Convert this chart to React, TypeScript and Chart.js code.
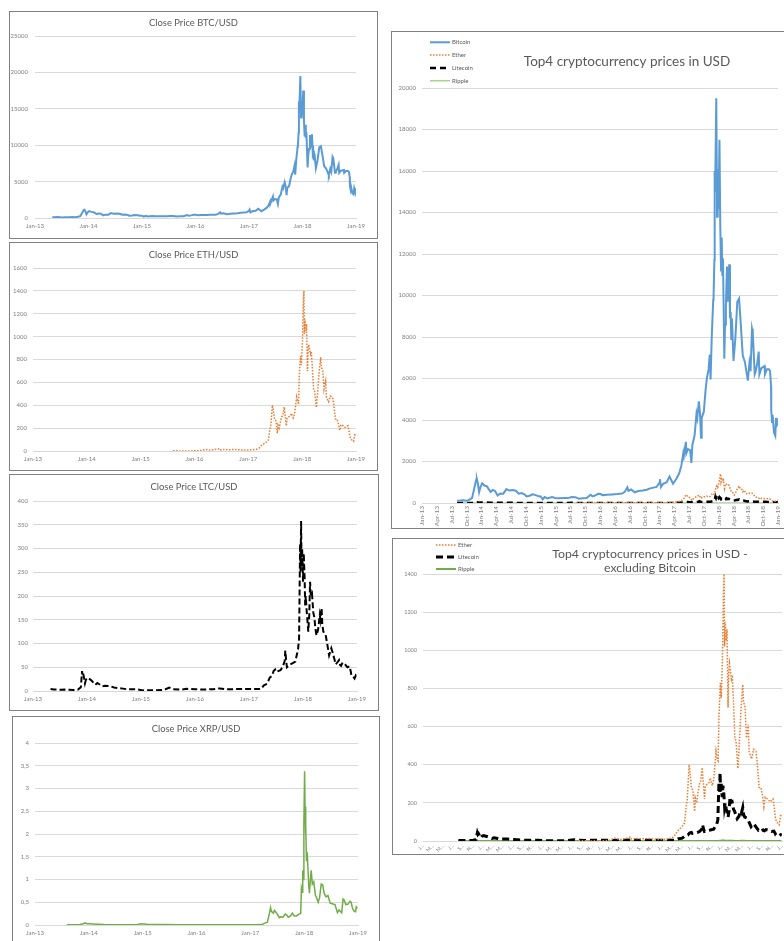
import React, { useEffect, useRef } from 'react';
import { Chart, registerables } from 'chart.js';

Chart.register(...registerables);

const FONT = 'Lato, "Liberation Sans", sans-serif';
const TITLE_COLOR = '#595959';
const TICK_COLOR = '#7f7f7f';
const GRID_COLOR = '#d9d9d9';
const BTC_COLOR = '#5B9BD5';
const ETH_COLOR = '#ED7D31';
const LTC_COLOR = '#000000';
const XRP_COLOR = '#70AD47';
const XRP_LIGHT = '#A9D18E';

// ---------------- data ----------------
const BTC_DATES = [
  '2013-04-28','2013-05-15','2013-06-01','2013-06-20','2013-07-05','2013-07-20','2013-08-04','2013-08-25','2013-09-10','2013-10-02',
  '2013-10-20','2013-11-05','2013-11-18','2013-11-30','2013-12-04','2013-12-10','2013-12-18','2013-12-26','2014-01-06','2014-01-20',
  '2014-02-05','2014-02-25','2014-03-10','2014-03-25','2014-04-10','2014-04-25','2014-05-15','2014-06-03','2014-06-20','2014-07-10',
  '2014-08-01','2014-08-18','2014-09-05','2014-09-25','2014-10-05','2014-10-25','2014-11-12','2014-12-01','2014-12-20','2015-01-01',
  '2015-01-14','2015-01-26','2015-02-10','2015-03-10','2015-03-31','2015-04-20','2015-05-20','2015-06-15','2015-07-10','2015-08-01',
  '2015-08-24','2015-09-15','2015-10-10','2015-11-04','2015-11-15','2015-12-01','2015-12-20','2016-01-05','2016-01-16','2016-02-15',
  '2016-03-15','2016-04-15','2016-05-15','2016-06-01','2016-06-17','2016-06-23','2016-07-10','2016-08-02','2016-08-25','2016-09-20',
  '2016-10-15','2016-11-05','2016-11-25','2016-12-15','2016-12-31','2017-01-05','2017-01-11','2017-01-25','2017-02-15','2017-03-03',
  '2017-03-25','2017-04-15','2017-05-01','2017-05-15','2017-05-25','2017-05-27','2017-06-12','2017-06-15','2017-06-25','2017-07-08',
  '2017-07-16','2017-07-22','2017-08-05','2017-08-17','2017-08-22','2017-09-01','2017-09-08','2017-09-14','2017-09-18','2017-10-01',
  '2017-10-12','2017-10-20','2017-10-31','2017-11-07','2017-11-12','2017-11-19','2017-11-28','2017-11-30','2017-12-05','2017-12-07',
  '2017-12-10','2017-12-17','2017-12-22','2017-12-26','2017-12-31','2018-01-06','2018-01-11','2018-01-16','2018-01-20','2018-01-24',
  '2018-01-28','2018-02-02','2018-02-05','2018-02-09','2018-02-14','2018-02-20','2018-02-24','2018-03-05','2018-03-10','2018-03-14',
  '2018-03-18','2018-03-22','2018-04-01','2018-04-12','2018-04-24','2018-05-05','2018-05-15','2018-05-28','2018-06-10','2018-06-24',
  '2018-06-28','2018-07-08','2018-07-15','2018-07-24','2018-07-29','2018-08-10','2018-08-15','2018-08-25','2018-09-04','2018-09-08',
  '2018-09-20','2018-10-10','2018-10-12','2018-10-25','2018-11-06','2018-11-13','2018-11-19','2018-11-20','2018-11-25','2018-11-28',
  '2018-12-07','2018-12-15','2018-12-20','2018-12-25','2018-12-31',
];
const BTC_CLOSE = [
  135,115,122,108,68,90,105,115,130,105,
  160,245,700,1130,1150,950,520,760,950,840,
  800,530,630,580,360,460,450,670,600,630,
  590,450,480,410,320,350,420,380,320,315,
  180,290,220,290,245,225,235,235,290,280,
  210,230,245,400,320,360,440,430,380,400,
  415,430,455,535,760,590,650,515,575,605,
  640,705,740,775,965,1150,770,920,1000,1280,
  930,1180,1420,1800,2300,2050,2950,2400,2600,2550,
  1930,2800,3250,4300,4100,4900,4300,3150,4100,4400,
  5450,6000,6450,7150,5950,8000,9800,9900,11700,16000,
  15000,19500,13800,16100,14150,17500,13400,11200,12800,11000,
  11800,8900,6950,8600,9500,11400,9700,11500,8900,9200,
  7900,8900,6850,7900,9700,9850,8700,7100,6800,6100,
  5900,6750,6350,8400,8200,6200,6300,6700,7300,6200,
  6500,6600,6200,6450,6450,6350,5600,4450,3900,4250,
  3400,3240,4100,3750,3840,
];

const ETH_DATES = [
  '2015-08-08','2015-09-01','2015-10-20','2015-12-01','2016-01-15','2016-02-15','2016-03-13','2016-04-15','2016-05-15','2016-06-17',
  '2016-06-20','2016-07-25','2016-08-20','2016-10-01','2016-11-01','2016-12-01','2017-01-01','2017-02-01','2017-03-01','2017-03-15',
  '2017-04-01','2017-05-01','2017-05-15','2017-05-25','2017-06-01','2017-06-12','2017-06-18','2017-06-26','2017-07-05','2017-07-16',
  '2017-07-20','2017-07-28','2017-08-05','2017-08-15','2017-08-22','2017-09-01','2017-09-08','2017-09-15','2017-09-20','2017-10-01',
  '2017-10-12','2017-10-20','2017-11-01','2017-11-10','2017-11-24','2017-11-30','2017-12-07','2017-12-12','2017-12-18','2017-12-21',
  '2017-12-26','2018-01-03','2018-01-09','2018-01-13','2018-01-16','2018-01-20','2018-01-26','2018-01-31','2018-02-06','2018-02-10',
  '2018-02-14','2018-02-25','2018-03-02','2018-03-10','2018-03-18','2018-03-25','2018-04-06','2018-04-14','2018-04-25','2018-05-05',
  '2018-05-10','2018-05-20','2018-05-28','2018-06-08','2018-06-13','2018-06-28','2018-07-10','2018-07-25','2018-08-02','2018-08-14',
  '2018-08-25','2018-09-05','2018-09-12','2018-09-20','2018-10-05','2018-10-20','2018-11-07','2018-11-14','2018-11-20','2018-11-25',
  '2018-12-07','2018-12-15','2018-12-24','2018-12-31',
];
const ETH_CLOSE = [
  2.8,1.3,0.5,0.9,1.5,5,15,8,12,20,
  11,13,11,13,10.8,8.5,8,10.7,16,28,
  50,77,95,180,220,400,360,280,265,155,
  225,200,250,300,310,385,300,220,285,300,
  305,330,290,320,470,430,420,650,780,830,
  750,960,1300,1400,1020,1150,1050,1110,700,880,
  930,850,870,720,540,525,380,505,700,820,
  730,700,540,610,470,430,480,470,410,280,
  280,230,180,230,220,205,220,180,130,110,
  90,85,140,135,
];

const LTC_DATES = [
  '2013-04-28','2013-05-20','2013-06-15','2013-07-10','2013-08-04','2013-09-01','2013-10-01','2013-11-01','2013-11-20','2013-11-28',
  '2013-12-01','2013-12-05','2013-12-10','2013-12-18','2013-12-25','2014-01-05','2014-01-20','2014-02-01','2014-02-25','2014-03-10',
  '2014-03-30','2014-04-10','2014-05-01','2014-06-01','2014-07-01','2014-08-01','2014-09-01','2014-10-05','2014-11-01','2014-12-01',
  '2015-01-14','2015-02-01','2015-04-01','2015-06-01','2015-07-10','2015-08-01','2015-10-01','2015-11-05','2016-01-01','2016-03-01',
  '2016-05-01','2016-06-17','2016-08-01','2016-10-01','2016-12-01','2017-01-05','2017-03-20','2017-03-30','2017-04-10','2017-05-01',
  '2017-05-20','2017-06-05','2017-06-15','2017-06-25','2017-07-01','2017-07-16','2017-08-01','2017-08-15','2017-08-30','2017-09-03',
  '2017-09-10','2017-09-14','2017-10-01','2017-10-20','2017-11-10','2017-11-28','2017-12-05','2017-12-12','2017-12-15','2017-12-19',
  '2017-12-22','2017-12-26','2018-01-01','2018-01-06','2018-01-12','2018-01-16','2018-01-20','2018-01-26','2018-02-06','2018-02-12',
  '2018-02-17','2018-02-22','2018-03-01','2018-03-10','2018-03-17','2018-03-25','2018-04-01','2018-04-12','2018-04-23','2018-04-28',
  '2018-05-05','2018-05-10','2018-05-17','2018-06-01','2018-06-12','2018-06-25','2018-07-10','2018-07-20','2018-08-10','2018-09-01',
  '2018-09-08','2018-09-15','2018-09-25','2018-10-15','2018-10-28','2018-11-12','2018-11-20','2018-11-24','2018-12-07','2018-12-15',
  '2018-12-24','2018-12-31',
];
const LTC_CLOSE = [
  4.3,3.2,2.9,2.5,2.9,2.5,2.2,2.9,8,42,
  34,38,30,16,24,28,25,22,13,17,
  13,10,11,10.5,7.5,6,5,3.3,3.8,3.5,
  1.3,1.8,1.5,2,7,4,3,4.5,3.5,3.2,
  3.8,5.5,3.8,4,4,4.3,4,7.5,12,15,
  28,32,42,45,40,42,44,50,63,85,
  60,50,55,58,62,88,110,310,250,358,
  260,300,230,290,240,180,200,170,125,160,
  230,200,205,165,155,130,117,130,160,150,
  175,140,125,120,100,75,90,80,56,65,
  55,53,60,55,50,52,40,32,29,26,
  33,31,
];

const XRP_DATES = [
  '2013-08-04','2013-09-15','2013-11-01','2013-11-25','2013-12-05','2013-12-18','2014-01-05','2014-02-01','2014-03-01','2014-04-15',
  '2014-06-01','2014-08-01','2014-10-01','2014-11-25','2014-12-20','2015-01-10','2015-02-01','2015-04-01','2015-06-01','2015-09-01',
  '2015-12-01','2016-03-01','2016-06-01','2016-09-01','2016-12-01','2017-02-01','2017-03-20','2017-04-01','2017-04-25','2017-05-05',
  '2017-05-17','2017-05-22','2017-06-05','2017-06-12','2017-06-25','2017-07-15','2017-07-25','2017-08-10','2017-08-25','2017-09-05',
  '2017-09-15','2017-10-01','2017-10-12','2017-10-25','2017-11-10','2017-11-24','2017-12-08','2017-12-13','2017-12-18','2017-12-22',
  '2017-12-26','2017-12-30','2018-01-04','2018-01-07','2018-01-10','2018-01-13','2018-01-17','2018-01-22','2018-02-01','2018-02-06',
  '2018-02-12','2018-02-17','2018-02-24','2018-03-05','2018-03-17','2018-03-25','2018-04-05','2018-04-14','2018-04-25','2018-05-05',
  '2018-05-15','2018-05-28','2018-06-10','2018-06-25','2018-07-15','2018-07-28','2018-08-14','2018-08-25','2018-09-12','2018-09-21',
  '2018-09-28','2018-10-10','2018-10-25','2018-11-07','2018-11-15','2018-11-25','2018-12-07','2018-12-15','2018-12-20','2018-12-28',
];
const XRP_CLOSE = [
  0.0056,0.006,0.012,0.025,0.045,0.03,0.028,0.024,0.017,0.009,
  0.006,0.005,0.006,0.013,0.027,0.024,0.016,0.01,0.01,0.007,
  0.006,0.007,0.006,0.008,0.0065,0.0065,0.009,0.03,0.06,0.2,
  0.38,0.3,0.26,0.32,0.27,0.16,0.18,0.17,0.24,0.22,
  0.17,0.2,0.26,0.2,0.2,0.24,0.25,0.8,0.72,1.2,
  1.0,2.2,3.38,2.6,2.0,2.2,1.4,1.6,0.9,0.7,
  1.0,1.2,0.9,0.95,0.65,0.6,0.5,0.6,0.9,0.88,
  0.7,0.62,0.65,0.48,0.46,0.45,0.27,0.33,0.27,0.57,
  0.55,0.45,0.46,0.52,0.5,0.36,0.3,0.29,0.4,0.37,
];

const YEAR_TICKS = ['Jan-13', 'Jan-14', 'Jan-15', 'Jan-16', 'Jan-17', 'Jan-18', 'Jan-19'];
const QUARTER_TICKS = [
  'Jan-13','Apr-13','Jul-13','Oct-13','Jan-14','Apr-14','Jul-14','Oct-14','Jan-15','Apr-15','Jul-15','Oct-15',
  'Jan-16','Apr-16','Jul-16','Oct-16','Jan-17','Apr-17','Jul-17','Oct-17','Jan-18','Apr-18','Jul-18','Oct-18','Jan-19',
];
const BIMONTH_TICKS = [
  'J…','M…','M…','J…','S…','N…','J…','M…','M…','J…','S…','N…','J…','M…','M…','J…','S…','N…','J…',
  'M…','M…','J…','S…','N…','J…','M…','M…','J…','S…','N…','J…','M…','M…','J…','S…','N…','J…',
];

// ---------------- helpers ----------------
function monthIndex(d: string): number {
  const [y, m, day] = d.split('-').map(Number);
  const dim = new Date(y, m, 0).getDate();
  return (y - 2013) * 12 + (m - 1) + (day - 1) / dim;
}
const JOIN_START = monthIndex('2013-08-01');
function pts(dates: string[], values: number[], from = -Infinity) {
  return dates.map((d, i) => ({ x: monthIndex(d), y: values[i] })).filter((p) => p.x >= from);
}

const plainFmt = (v: any) => String(v);
const commaFmt = (v: any) => String(v).replace('.', ',');

const lineLegend = {
  id: 'lineLegend',
  afterDraw(chart: any, _args: any, opts: any) {
    if (!opts || !opts.display) return;
    const ctx = chart.ctx;
    ctx.save();
    ctx.font = `${opts.fontSize}px ${FONT}`;
    ctx.textBaseline = 'middle';
    ctx.textAlign = 'left';
    chart.data.datasets.forEach((ds: any, i: number) => {
      const y = opts.y + i * opts.spacing;
      ctx.strokeStyle = ds.borderColor;
      ctx.lineWidth = ds.borderWidth;
      ctx.setLineDash(ds.borderDash || []);
      ctx.beginPath();
      ctx.moveTo(opts.x, y);
      ctx.lineTo(opts.x + opts.lineLen, y);
      ctx.stroke();
      ctx.setLineDash([]);
      ctx.fillStyle = opts.color;
      ctx.fillText(ds.label, opts.x + opts.lineLen + opts.gap, y);
    });
    ctx.restore();
  },
};

type Spec = {
  box: { left: number; top: number; width: number; height: number };
  plot: { left: number; right: number; top: number; bottom: number };
  title: string | string[];
  titleSize: number;
  titleY: number;
  yMax: number;
  yStep: number;
  yFmt: (v: any) => string;
  yFont: number;
  yPad: number;
  xStep: number;
  xLabels: string[];
  xFont: number;
  xRot: number;
  xPad: number;
  datasets: any[];
  legend?: any;
};

function makeConfig(spec: Spec): any {
  const w = spec.box.width - 2;
  const h = spec.box.height - 2;
  const { plot } = spec;
  const lines = Array.isArray(spec.title) ? spec.title.length : 1;
  const lh = spec.titleSize * 1.2;
  const block = lines * lh;
  const padTop = spec.titleY - block / 2;
  const padBottom = plot.top - padTop - block;
  return {
    type: 'line',
    data: {
      datasets: spec.datasets.map((d) => ({
        ...d,
        xAxisID: 'x',
        yAxisID: 'y',
        pointRadius: 0,
        pointHoverRadius: 0,
        tension: 0,
        fill: false,
        backgroundColor: d.borderColor,
      })),
    },
    options: {
      responsive: false,
      animation: false,
      events: [],
      layout: { padding: 0 },
      plugins: {
        legend: { display: false },
        tooltip: { enabled: false },
        title: {
          display: true,
          text: spec.title,
          color: TITLE_COLOR,
          font: { family: FONT, size: spec.titleSize, weight: 'normal', lineHeight: 1.2 },
          padding: { top: padTop, bottom: padBottom },
        },
        lineLegend: spec.legend ?? { display: false },
      },
      scales: {
        x: {
          type: 'linear',
          position: 'bottom',
          min: 0,
          max: 72,
          afterBuildTicks: (s: any) => {
            s.ticks = spec.xLabels.map((_, i) => ({ value: i * spec.xStep }));
          },
          afterFit: (s: any) => {
            s.height = h - plot.bottom;
          },
          grid: { display: false, drawTicks: false },
          border: { display: true, color: GRID_COLOR, width: 1 },
          ticks: {
            autoSkip: false,
            minRotation: spec.xRot,
            maxRotation: spec.xRot,
            padding: spec.xPad,
            color: TICK_COLOR,
            font: { family: FONT, size: spec.xFont },
            callback: (v: any) => spec.xLabels[Math.round(v / spec.xStep)] ?? '',
          },
        },
        y: {
          type: 'linear',
          position: 'left',
          min: 0,
          max: spec.yMax,
          afterFit: (s: any) => {
            s.width = plot.left;
          },
          grid: { color: GRID_COLOR, lineWidth: 1, drawTicks: false },
          border: { display: false },
          ticks: {
            stepSize: spec.yStep,
            padding: spec.yPad,
            color: TICK_COLOR,
            font: { family: FONT, size: spec.yFont },
            callback: spec.yFmt,
          },
        },
        pad: {
          type: 'linear',
          axis: 'y',
          position: 'right',
          display: true,
          afterFit: (s: any) => {
            s.width = w - plot.right;
          },
          grid: { display: false, drawTicks: false },
          border: { display: false },
          ticks: { display: false },
        },
      },
    },
    plugins: [lineLegend],
  };
}

// ---------------- chart specs ----------------
const LEFT_COMMON = { titleSize: 9.4, yFont: 6, xStep: 12, xLabels: YEAR_TICKS, xFont: 6, xRot: 0, xPad: 4 };

const SPECS: Spec[] = [
  {
    ...LEFT_COMMON,
    box: { left: 9, top: 11, width: 369, height: 228 },
    plot: { left: 25, right: 346, top: 24, bottom: 206 },
    title: 'Close Price BTC/USD',
    titleY: 11,
    yMax: 25000, yStep: 5000, yFmt: plainFmt, yPad: 7,
    datasets: [{ label: 'Bitcoin', data: pts(BTC_DATES, BTC_CLOSE), borderColor: BTC_COLOR, borderWidth: 2 }],
  },
  {
    ...LEFT_COMMON,
    box: { left: 9, top: 242, width: 369, height: 229 },
    plot: { left: 23, right: 346, top: 25, bottom: 208 },
    title: 'Close Price ETH/USD',
    titleY: 12,
    yMax: 1600, yStep: 200, yFmt: plainFmt, yPad: 6,
    datasets: [{ label: 'Ether', data: pts(ETH_DATES, ETH_CLOSE), borderColor: ETH_COLOR, borderWidth: 1.5, borderDash: [1.5, 1.5] }],
  },
  {
    ...LEFT_COMMON,
    box: { left: 9, top: 474, width: 370, height: 237 },
    plot: { left: 23, right: 347, top: 26, bottom: 216 },
    title: 'Close Price LTC/USD',
    titleY: 12,
    yMax: 400, yStep: 50, yFmt: plainFmt, yPad: 5,
    datasets: [{ label: 'Litecoin', data: pts(LTC_DATES, LTC_CLOSE), borderColor: LTC_COLOR, borderWidth: 2, borderDash: [6, 3] }],
  },
  {
    ...LEFT_COMMON,
    box: { left: 12, top: 716, width: 368, height: 243 },
    plot: { left: 22, right: 345, top: 26, bottom: 208 },
    title: 'Close Price XRP/USD',
    titleY: 12,
    yMax: 4, yStep: 0.5, yFmt: commaFmt, yPad: 6,
    datasets: [{ label: 'Ripple', data: pts(XRP_DATES, XRP_CLOSE), borderColor: XRP_COLOR, borderWidth: 1.5 }],
  },
  {
    box: { left: 391, top: 31, width: 472, height: 498 },
    plot: { left: 30, right: 386, top: 56, bottom: 471 },
    title: 'Top4 cryptocurrency prices in USD',
    titleSize: 13.5,
    titleY: 30,
    yMax: 20000, yStep: 2000, yFmt: plainFmt, yFont: 6, yPad: 6,
    xStep: 3, xLabels: QUARTER_TICKS, xFont: 6.5, xRot: 90, xPad: 3,
    datasets: [
      { label: 'Bitcoin', data: pts(BTC_DATES, BTC_CLOSE, JOIN_START), borderColor: BTC_COLOR, borderWidth: 2 },
      { label: 'Ether', data: pts(ETH_DATES, ETH_CLOSE, JOIN_START), borderColor: ETH_COLOR, borderWidth: 1.5, borderDash: [1.5, 1.5] },
      { label: 'Litecoin', data: pts(LTC_DATES, LTC_CLOSE, JOIN_START), borderColor: LTC_COLOR, borderWidth: 2.5, borderDash: [6, 4] },
      { label: 'Ripple', data: pts(XRP_DATES, XRP_CLOSE, JOIN_START), borderColor: XRP_LIGHT, borderWidth: 1.5 },
    ],
    legend: { display: true, x: 38, y: 10.3, spacing: 12.8, lineLen: 20, gap: 2, fontSize: 6, color: TITLE_COLOR },
  },
  {
    box: { left: 392, top: 538, width: 516, height: 317 },
    plot: { left: 30, right: 389, top: 35, bottom: 302 },
    title: ['Top4 cryptocurrency prices in USD -', 'excluding Bitcoin'],
    titleSize: 12.3,
    titleY: 22,
    yMax: 1400, yStep: 200, yFmt: plainFmt, yFont: 5.5, yPad: 6,
    xStep: 2, xLabels: BIMONTH_TICKS, xFont: 5, xRot: 45, xPad: 2,
    datasets: [
      { label: 'Ether', data: pts(ETH_DATES, ETH_CLOSE, JOIN_START), borderColor: ETH_COLOR, borderWidth: 1.5, borderDash: [1.5, 1.5] },
      { label: 'Litecoin', data: pts(LTC_DATES, LTC_CLOSE, JOIN_START), borderColor: LTC_COLOR, borderWidth: 3, borderDash: [7, 4] },
      { label: 'Ripple', data: pts(XRP_DATES, XRP_CLOSE, JOIN_START), borderColor: XRP_COLOR, borderWidth: 2 },
    ],
    legend: { display: true, x: 43, y: 6, spacing: 12, lineLen: 20, gap: 2, fontSize: 6, color: TITLE_COLOR },
  },
];

function ChartBox({ spec }: { spec: Spec }) {
  const ref = useRef<HTMLCanvasElement>(null);
  useEffect(() => {
    if (!ref.current) return;
    const chart = new Chart(ref.current, makeConfig(spec));
    return () => chart.destroy();
  }, [spec]);
  const w = spec.box.width - 2;
  const h = spec.box.height - 2;
  return (
    <div
      style={{
        position: 'absolute',
        left: spec.box.left,
        top: spec.box.top,
        width: spec.box.width,
        height: spec.box.height,
        border: '1px solid #808080',
        boxSizing: 'border-box',
        background: '#fff',
      }}
    >
      <canvas ref={ref} width={w} height={h} style={{ display: 'block', width: w, height: h }} />
    </div>
  );
}

export default function App() {
  return (
    <div
      style={{
        position: 'absolute',
        left: 0,
        top: 0,
        width: 784,
        height: 941,
        overflow: 'hidden',
        background: '#fff',
      }}
    >
      {SPECS.map((s, i) => (
        <ChartBox key={i} spec={s} />
      ))}
    </div>
  );
}
